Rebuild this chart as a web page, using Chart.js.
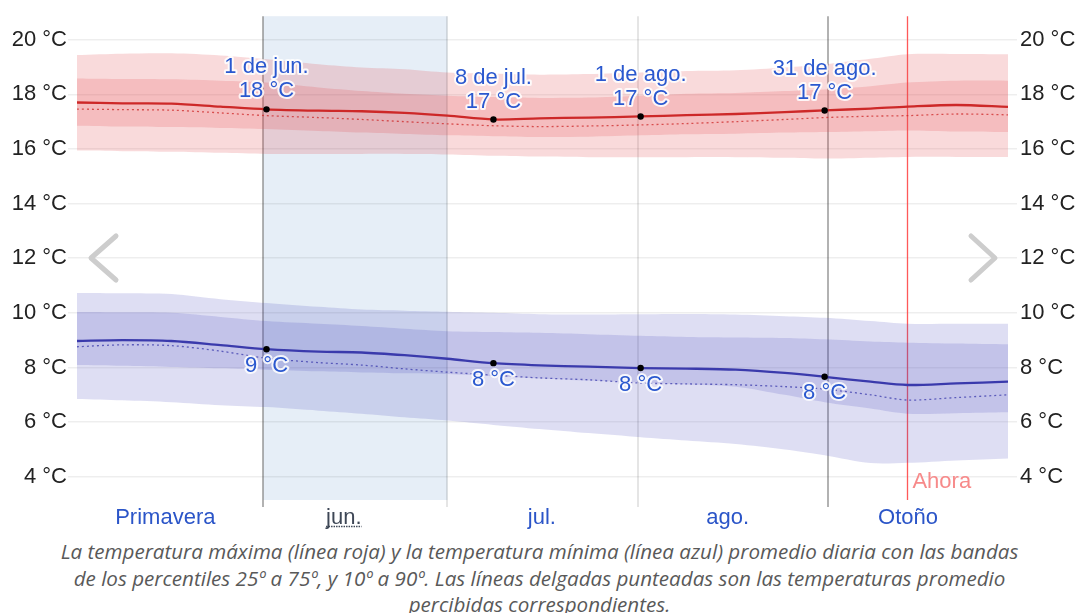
<!DOCTYPE html>
<html><head><meta charset="utf-8">
<script src="https://cdn.jsdelivr.net/npm/chart.js@4.4.1/dist/chart.umd.min.js"></script>
<style>
html,body{margin:0;padding:0;background:#fff;}
#wrap{position:relative;width:1079px;height:613px;overflow:hidden;}
canvas{display:block;}
#cap{position:absolute;left:0;top:538px;width:1079px;text-align:center;font-family:"Open Sans",sans-serif;font-style:italic;font-size:20.6px;line-height:26.5px;color:#595959;white-space:nowrap;}
</style></head><body>
<div id="wrap"><canvas id="c" width="1079" height="535"></canvas>
<div id="cap">La temperatura máxima (línea roja) y la temperatura mínima (línea azul) promedio diaria con las bandas<br>de los percentiles 25º a 75º, y 10º a 90º. Las líneas delgadas punteadas son las temperaturas promedio<br>percibidas correspondientes.</div></div>
<script>
// x = days since 1 May (1 May 00:00 = 0)
const days     = [0.6, 8, 16, 24, 31.5, 40, 47, 54, 61, 68.5, 76, 84, 92.5, 100, 108, 116, 122.5, 130, 136, 144, 152.4];
const maxAvg   = [17.70,17.67,17.66,17.55,17.45,17.40,17.38,17.32,17.22,17.08,17.12,17.15,17.19,17.24,17.28,17.35,17.41,17.48,17.55,17.61,17.54];
const maxFeel  = [17.46,17.44,17.42,17.32,17.22,17.15,17.08,17.00,16.92,16.85,16.82,16.84,16.88,16.93,17.00,17.08,17.15,17.20,17.22,17.28,17.25];
const maxP25   = [16.85,16.82,16.80,16.77,16.73,16.66,16.60,16.55,16.50,16.47,16.44,16.45,16.50,16.54,16.56,16.60,16.62,16.65,16.68,16.64,16.62];
const maxP75   = [18.58,18.56,18.55,18.50,18.43,18.25,18.12,18.02,17.95,17.90,17.87,17.88,17.95,18.02,18.05,18.12,18.18,18.30,18.43,18.50,18.50];
const maxP10   = [15.94,15.92,15.90,15.86,15.82,15.82,15.82,15.82,15.80,15.75,15.72,15.70,15.70,15.70,15.70,15.68,15.65,15.68,15.71,15.71,15.71];
const maxP90   = [19.44,19.49,19.50,19.42,19.28,19.10,18.98,18.92,18.80,18.76,18.72,18.74,18.80,18.85,18.88,18.98,19.10,19.30,19.47,19.48,19.47];
const minAvg   = [8.97,9.00,8.97,8.82,8.67,8.58,8.55,8.45,8.32,8.16,8.08,8.03,7.98,7.96,7.92,7.80,7.66,7.48,7.36,7.42,7.48];
const minFeel  = [8.76,8.83,8.80,8.60,8.34,8.18,8.09,7.95,7.83,7.72,7.62,7.55,7.43,7.40,7.37,7.30,7.21,7.00,6.81,6.90,7.00];
const minP25   = [8.09,8.06,8.02,7.97,7.92,7.86,7.82,7.79,7.76,7.68,7.60,7.52,7.45,7.38,7.30,7.00,6.73,6.50,6.31,6.33,6.36];
const minP75   = [10.03,10.02,10.00,9.85,9.70,9.60,9.52,9.42,9.33,9.30,9.27,9.22,9.16,9.12,9.10,9.08,9.03,8.95,8.91,8.88,8.85];
const minP10   = [6.85,6.80,6.73,6.62,6.55,6.42,6.31,6.18,6.06,5.90,5.75,5.60,5.45,5.33,5.20,5.00,4.79,4.50,4.51,4.60,4.67];
const minP90   = [10.73,10.72,10.69,10.50,10.36,10.22,10.12,10.08,10.04,10.00,9.95,9.94,9.95,9.96,9.94,9.88,9.82,9.70,9.60,9.60,9.60];

const markDays   = [31.5, 68.5, 92.5, 122.5];
const markMax    = [17.45, 17.08, 17.19, 17.41];
const markMin    = [8.67, 8.16, 7.98, 7.66];
const markDates  = ['1 de jun.', '8 de jul.', '1 de ago.', '31 de ago.'];
const markMaxTxt = ['18 °C', '17 °C', '17 °C', '17 °C'];
const markMinTxt = ['9 °C', '8 °C', '8 °C', '8 °C'];

const yTicks       = [4, 6, 8, 10, 12, 14, 16, 18, 20];
const periodLabels = ['Primavera', 'jun.', 'jul.', 'ago.', 'Otoño'];
const periodCenter = [15.0, 44.1, 76.4, 106.7, 136.1];
const periodColors = ['#2b55c8', '#3e4756', '#2b55c8', '#2b55c8', '#2b55c8'];
const seasonLines  = [31, 123];
const monthLines   = [61, 92];
const shadeRange   = [31, 61];
const nowDay       = 136;

const pts = (arr) => arr.map((v, i) => ({x: days[i], y: v}));
const FONT = '"Liberation Sans", Arial, sans-serif';
const RED = 'rgb(205,40,40)', BLUE = 'rgb(58,58,172)';
const redBand = 'rgba(225,70,75,0.2)', blueBand = 'rgba(70,70,190,0.18)';

const band = (arr) => ({data: pts(arr), borderWidth: 0, pointRadius: 0, fill: false});

const deco = {
  id: 'deco',
  beforeDraw(chart) {
    const {ctx, chartArea: a, scales: {x}} = chart;
    const x0 = x.getPixelForValue(shadeRange[0]), x1 = x.getPixelForValue(shadeRange[1]);
    ctx.save();
    ctx.fillStyle = '#e6eef7';
    ctx.fillRect(x0, a.top, x1 - x0, a.bottom - a.top);
    ctx.restore();
  },
  beforeDatasetsDraw(chart) {
    const {ctx, chartArea: a, scales: {x}} = chart;
    ctx.save();
    ctx.lineWidth = 2;
    monthLines.forEach(d => {
      const px = Math.round(x.getPixelForValue(d));
      ctx.strokeStyle = 'rgba(0,0,0,0.1)';
      ctx.beginPath(); ctx.moveTo(px, a.top); ctx.lineTo(px, a.bottom + 7); ctx.stroke();
    });
    seasonLines.forEach(d => {
      const px = Math.round(x.getPixelForValue(d));
      ctx.strokeStyle = 'rgba(0,0,0,0.3)';
      ctx.beginPath(); ctx.moveTo(px, a.top); ctx.lineTo(px, a.bottom + 7); ctx.stroke();
    });
    const nx = Math.round(x.getPixelForValue(nowDay)) + 0.5;
    ctx.lineWidth = 1.3;
    ctx.strokeStyle = 'rgba(255,60,60,0.85)';
    ctx.beginPath(); ctx.moveTo(nx, a.top); ctx.lineTo(nx, a.bottom); ctx.stroke();
    ctx.restore();
  },
  afterDatasetsDraw(chart) {
    const {ctx, scales: {x, y}} = chart;
    ctx.save();
    ctx.font = '22px ' + FONT;
    ctx.textAlign = 'center';
    ctx.textBaseline = 'middle';
    ctx.lineJoin = 'round';
    const halo = (t, px, py) => {
      ctx.strokeStyle = 'rgba(255,255,255,0.85)';
      ctx.lineWidth = 4;
      ctx.strokeText(t, px, py);
      ctx.fillStyle = '#2a58cf';
      ctx.fillText(t, px, py);
    };
    markDays.forEach((d, i) => {
      const px = x.getPixelForValue(d);
      const pyMax = y.getPixelForValue(markMax[i]);
      halo(markDates[i], px, pyMax - 42);
      halo(markMaxTxt[i], px, pyMax - 18);
      const pyMin = y.getPixelForValue(markMin[i]);
      halo(markMinTxt[i], px, pyMin + 16.5);
    });
    ctx.restore();
  },
  afterDraw(chart) {
    const {ctx, chartArea: a, scales: {x}} = chart;
    ctx.save();
    // now label
    ctx.font = '22px ' + FONT;
    ctx.fillStyle = '#f78a8a';
    ctx.textAlign = 'left';
    ctx.textBaseline = 'middle';
    ctx.fillText('Ahora', x.getPixelForValue(nowDay) + 5, 482);
    // underline selected month
    ctx.font = '22px ' + FONT;
    const cx = x.getPixelForValue(periodCenter[1]);
    const w = ctx.measureText(periodLabels[1]).width;
    ctx.strokeStyle = '#3e4756';
    ctx.lineWidth = 1.5;
    ctx.setLineDash([1.5, 1]);
    ctx.beginPath(); ctx.moveTo(cx - w / 2, 526.5); ctx.lineTo(cx + w / 2, 526.5); ctx.stroke();
    ctx.setLineDash([]);
    // navigation chevrons
    ctx.strokeStyle = '#cdcdcd';
    ctx.lineWidth = 5;
    ctx.lineCap = 'round';
    ctx.lineJoin = 'round';
    ctx.beginPath(); ctx.moveTo(116, 236); ctx.lineTo(91, 258); ctx.lineTo(116, 280); ctx.stroke();
    ctx.beginPath(); ctx.moveTo(971, 236); ctx.lineTo(995, 258); ctx.lineTo(971, 280); ctx.stroke();
    ctx.restore();
  }
};

const yCommon = {
  type: 'linear', min: 3.15, max: 20.86,
  afterBuildTicks: (axis) => { axis.ticks = yTicks.map(v => ({value: v})); },
  border: {display: false},
  ticks: {font: {family: FONT, size: 22}, color: '#222', callback: (v) => v + ' °C'}
};

new Chart(document.getElementById('c'), {
  type: 'line',
  data: {
    datasets: [
      {data: markDays.map((d, i) => ({x: d, y: markMax[i]})), showLine: false, pointRadius: 3.2, pointBackgroundColor: '#000', pointBorderWidth: 0, yAxisID: 'y'},
      {data: markDays.map((d, i) => ({x: d, y: markMin[i]})), showLine: false, pointRadius: 3.2, pointBackgroundColor: '#000', pointBorderWidth: 0, yAxisID: 'y'},
      {data: pts(maxAvg), borderColor: RED, borderWidth: 2.3, pointRadius: 0, fill: false},
      {data: pts(minAvg), borderColor: BLUE, borderWidth: 2.3, pointRadius: 0, fill: false},
      {data: pts(maxFeel), borderColor: 'rgba(205,40,40,0.75)', borderWidth: 1.3, borderDash: [2, 3], pointRadius: 0, fill: false},
      {data: pts(minFeel), borderColor: 'rgba(58,58,172,0.75)', borderWidth: 1.3, borderDash: [2, 3], pointRadius: 0, fill: false},
      band(maxP25),
      Object.assign(band(maxP75), {fill: 6, backgroundColor: redBand}),
      band(maxP10),
      Object.assign(band(maxP90), {fill: 8, backgroundColor: redBand}),
      band(minP25),
      Object.assign(band(minP75), {fill: 10, backgroundColor: blueBand}),
      band(minP10),
      Object.assign(band(minP90), {fill: 12, backgroundColor: blueBand})
    ]
  },
  options: {
    responsive: false,
    animation: false,
    devicePixelRatio: 1,
    layout: {padding: {top: 14, left: 0, right: 0, bottom: 0}},
    plugins: {legend: {display: false}, tooltip: {enabled: false}},
    elements: {line: {tension: 0.3}},
    scales: {
      x: {
        type: 'linear', min: 0.6, max: 152.4,
        afterBuildTicks: (axis) => { axis.ticks = periodCenter.map(v => ({value: v})); },
        afterFit: (axis) => { axis.height = 35; },
        grid: {display: false},
        border: {display: false},
        ticks: {
          autoSkip: false, maxRotation: 0, padding: -3,
          font: {family: FONT, size: 22},
          color: (c) => periodColors[c.index],
          callback: (v, i) => periodLabels[i]
        }
      },
      y: Object.assign({}, yCommon, {
        position: 'left',
        afterFit: (axis) => { axis.width = 77; },
        grid: {color: 'rgba(0,0,0,0.065)', tickLength: 9, lineWidth: 1.5},
        ticks: Object.assign({}, yCommon.ticks, {padding: 1})
      }),
      y2: Object.assign({}, yCommon, {
        position: 'right',
        afterFit: (axis) => { axis.width = 71; },
        grid: {color: 'rgba(0,0,0,0.065)', tickLength: 9, lineWidth: 1.5, drawOnChartArea: false},
        ticks: Object.assign({}, yCommon.ticks, {padding: 3})
      })
    }
  },
  plugins: [deco]
});
</script>
</body></html>
